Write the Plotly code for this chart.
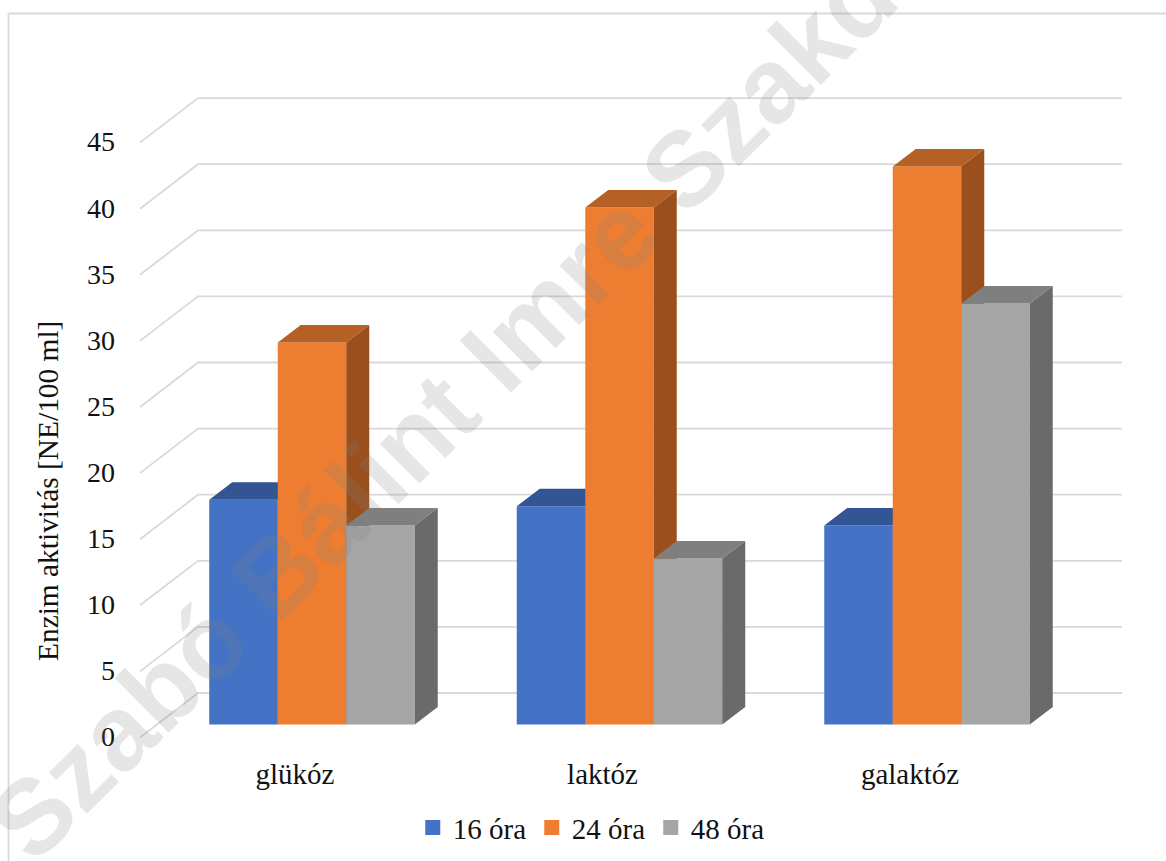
import plotly.graph_objects as go

# Chart data
categories = ["glükóz", "laktóz", "galaktóz"]
hours_16 = [17.0, 16.5, 15.05]
hours_24 = [28.9, 39.1, 42.2]
hours_48 = [15.05, 12.55, 31.85]
series_names = ["16 óra", "24 óra", "48 óra"]
y_ticks = [0, 5, 10, 15, 20, 25, 30, 35, 40, 45]

WIDTH, HEIGHT = 1166, 861
FONT = "Liberation Serif"
INK = "#111111"
GRID = "#D9D9D9"

# Page-to-axis scale: bar plane origin and units
CAT_PX = 307.5
VAL_PX = 13.22
CAT0_PX = 312.0
BASE_PX = 724.5
LEFT_PX, RIGHT_PX, TOP_PX, BOTTOM_PX = 116.0, 1140.0, 60.0, 752.0

x_range = [(LEFT_PX - CAT0_PX) / CAT_PX, (RIGHT_PX - CAT0_PX) / CAT_PX]
y_range = [(BASE_PX - BOTTOM_PX) / VAL_PX, (BASE_PX - TOP_PX) / VAL_PX]

bar_w = 68.5 / CAT_PX
depth_x = 23.0 / CAT_PX        # oblique depth of one bar
depth_y = 17.5 / VAL_PX

# Wall and floor of the oblique box, relative to the bar plane
wall_front_x = (140.0 - CAT0_PX) / CAT_PX
wall_back_x = (198.0 - CAT0_PX) / CAT_PX
wall_end_x = (1122.0 - CAT0_PX) / CAT_PX
wall_front_dy = (BASE_PX - 737.5) / VAL_PX
wall_back_dy = (BASE_PX - 693.0) / VAL_PX
label_shift_x = -17.0 / CAT_PX
tick_label_dy = 0.07

styles = [
    dict(name=series_names[0], values=hours_16, shift=-bar_w, front="#4472C4", top="#335593", side="#2C4A80"),
    dict(name=series_names[1], values=hours_24, shift=0.0, front="#ED7D31", top="#B56024", side="#9A4F1C"),
    dict(name=series_names[2], values=hours_48, shift=bar_w, front="#A5A5A5", top="#7F7F7F", side="#6A6A6A"),
]

fig = go.Figure()

# Grid: diagonal along the side wall, then horizontal along the back wall
grid_x, grid_y = [], []
for t in y_ticks:
    grid_x += [wall_front_x, wall_back_x, wall_end_x, None]
    grid_y += [t + wall_front_dy, t + wall_back_dy, t + wall_back_dy, None]
fig.add_trace(go.Scatter(x=grid_x, y=grid_y, mode="lines", showlegend=False, hoverinfo="skip",
                         line=dict(color=GRID, width=1.8)))

# One overlaid subplot per series keeps the faces stacked left to right
for i, s in enumerate(styles):
    n = i + 2
    xa, ya = f"x{n}", f"y{n}"
    xs = [c + s["shift"] for c in range(len(categories))]

    side_x, side_y, top_x, top_y = [], [], [], []
    for x, v in zip(xs, s["values"]):
        left, right = x - bar_w / 2, x + bar_w / 2
        side_x += [right, right + depth_x, right + depth_x, right, right, None]
        side_y += [0, depth_y, v + depth_y, v, 0, None]
        top_x += [left, left + depth_x, right + depth_x, right, left, None]
        top_y += [v, v + depth_y, v + depth_y, v, v, None]

    fig.add_trace(go.Bar(x=xs, y=s["values"], width=bar_w, name=s["name"], xaxis=xa, yaxis=ya,
                         marker=dict(color=s["front"], line=dict(width=0)), showlegend=False, hoverinfo="skip"))
    fig.add_trace(go.Scatter(x=side_x, y=side_y, mode="lines", fill="toself", fillcolor=s["side"],
                             line=dict(width=0), xaxis=xa, yaxis=ya, showlegend=False, hoverinfo="skip"))
    fig.add_trace(go.Scatter(x=top_x, y=top_y, mode="lines", fill="toself", fillcolor=s["top"],
                             line=dict(width=0), xaxis=xa, yaxis=ya, showlegend=False, hoverinfo="skip"))

# Legend entries with square swatches
for s in styles:
    fig.add_trace(go.Scatter(x=[None], y=[None], mode="markers", name=s["name"],
                             marker=dict(symbol="square", size=15, color=s["front"], line=dict(width=0))))

x_domain = [LEFT_PX / WIDTH, RIGHT_PX / WIDTH]
y_domain = [1 - BOTTOM_PX / HEIGHT, 1 - TOP_PX / HEIGHT]

layout = dict(
    width=WIDTH, height=HEIGHT, autosize=False,
    margin=dict(l=0, r=0, t=0, b=0),
    paper_bgcolor="white", plot_bgcolor="rgba(0,0,0,0)",
    barmode="overlay", hovermode=False,
    font=dict(family=FONT, size=28, color=INK),
    xaxis=dict(domain=x_domain, range=x_range, showgrid=False, zeroline=False, showline=False,
               tickmode="array", tickvals=[c + label_shift_x for c in range(len(categories))],
               ticktext=categories, ticks="", ticklabelstandoff=2,
               tickfont=dict(family=FONT, size=29, color=INK), automargin=False),
    yaxis=dict(domain=y_domain, range=y_range, showgrid=False, zeroline=False, showline=False,
               tickmode="array", tickvals=[t + wall_front_dy + tick_label_dy for t in y_ticks],
               ticktext=[str(t) for t in y_ticks], ticks="", ticklabelstandoff=0,
               tickfont=dict(family=FONT, size=28, color=INK), automargin=False),
    legend=dict(orientation="h", x=0.354, xanchor="left", y=0.009, yanchor="bottom",
                entrywidth=74, entrywidthmode="pixels", bgcolor="rgba(0,0,0,0)",
                itemwidth=30, font=dict(family=FONT, size=29, color=INK)),
    shapes=[
        dict(type="line", xref="paper", yref="paper", x0=8.5 / WIDTH, x1=8.5 / WIDTH,
             y0=1 - 13.5 / HEIGHT, y1=0, line=dict(color=GRID, width=1.8)),
        dict(type="line", xref="paper", yref="paper", x0=8.5 / WIDTH, x1=1,
             y0=1 - 13.5 / HEIGHT, y1=1 - 13.5 / HEIGHT, line=dict(color=GRID, width=1.8)),
    ],
    annotations=[
        dict(text="Enzim aktivitás [NE/100 ml]", textangle=-90, xref="paper", yref="paper",
             x=48 / WIDTH, y=1 - 491 / HEIGHT, xanchor="center", yanchor="middle", showarrow=False,
             font=dict(family=FONT, size=29.4, color=INK)),
        dict(text="Szabó Bálint Imre Szakd", textangle=-44.8, xref="paper", yref="paper",
             x=442 / WIDTH, y=1 - 409 / HEIGHT, xanchor="center", yanchor="middle", showarrow=False,
             font=dict(family="Liberation Sans", size=106, color="rgba(128,128,128,0.2)", weight="bold")),
    ],
)
for n in (2, 3, 4):
    layout[f"xaxis{n}"] = dict(domain=x_domain, range=x_range, overlaying="x", visible=False)
    layout[f"yaxis{n}"] = dict(domain=y_domain, range=y_range, overlaying="y", visible=False)

fig.update_layout(**layout)
fig.write_html("out.html")
